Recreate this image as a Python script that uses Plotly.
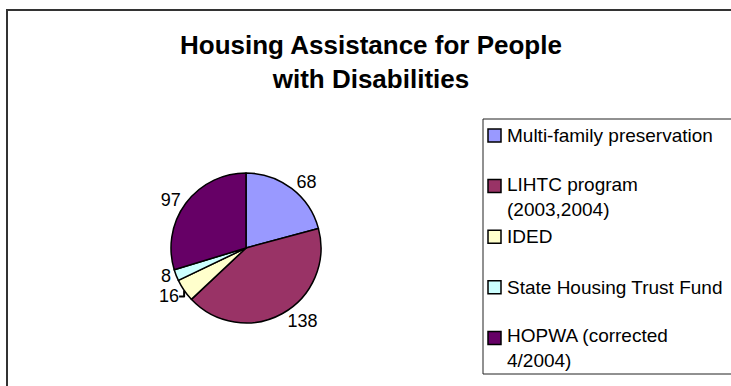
import plotly.graph_objects as go

# ---- data ----
labels = ["Multi-family preservation", "LIHTC program (2003,2004)", "IDED",
          "State Housing Trust Fund", "HOPWA (corrected 4/2004)"]
legend_lines = [["Multi-family preservation"], ["LIHTC program", "(2003,2004)"], ["IDED"],
                ["State Housing Trust Fund"], ["HOPWA (corrected", "4/2004)"]]
values = [68, 138, 16, 8, 97]
colors = ["#9999FF", "#993366", "#FFFFCC", "#CCFFFF", "#660066"]
title_lines = ["Housing Assistance for People", "with Disabilities"]

W, H = 731, 386
FONT = "Arial, Liberation Sans, sans-serif"


def px(x):
    return x / W


def py(y):
    return 1 - y / H


fig = go.Figure(go.Pie(
    labels=labels, values=values, sort=False, direction="clockwise", rotation=0,
    marker=dict(colors=colors, line=dict(color="black", width=1.5)),
    textinfo="value", textposition="outside",
    textfont=dict(size=18, color="black", family=FONT),
    showlegend=False, hoverinfo="label+value",
    domain=dict(x=[px(171), px(321)], y=[py(323), py(173)]),
))

shapes = []
annotations = []
# outer chart border
shapes.append(dict(type="rect", xref="paper", yref="paper",
                   x0=px(7), x1=px(745), y0=py(400), y1=py(10),
                   line=dict(color="#333333", width=2)))
# legend box
shapes.append(dict(type="rect", xref="paper", yref="paper",
                   x0=px(483), x1=px(745), y0=py(374), y1=py(119),
                   line=dict(color="#222222", width=1)))

# title
annotations.append(dict(text="<br>".join(f"<b>{t}</b>" for t in title_lines),
                        xref="paper", yref="paper", x=px(371), y=py(62),
                        xanchor="center", yanchor="middle", showarrow=False,
                        font=dict(size=26, color="black", family=FONT)))

# manual legend
top = 135.5
step = 50.6
for i, (lines, c) in enumerate(zip(legend_lines, colors)):
    yc = top + step * i
    shapes.append(dict(type="rect", xref="paper", yref="paper",
                       x0=px(488), x1=px(501), y0=py(yc + 6.5), y1=py(yc - 6.5),
                       fillcolor=c, line=dict(color="black", width=1.5)))
    ymid = yc + 10.5 * (len(lines) - 1)
    annotations.append(dict(text="<br>".join(lines), xref="paper", yref="paper",
                            x=px(505), y=py(ymid), align="left",
                            xanchor="left", yanchor="middle", showarrow=False,
                            font=dict(size=19, color="black", family=FONT)))

fig.update_layout(width=W, height=H, margin=dict(l=0, r=0, t=0, b=0),
                  paper_bgcolor="white", plot_bgcolor="white", showlegend=False,
                  shapes=shapes, annotations=annotations)

fig.write_html("out.html", config={"displayModeBar": False},
               post_script="document.body.style.margin='0';document.body.style.overflow='hidden';")
